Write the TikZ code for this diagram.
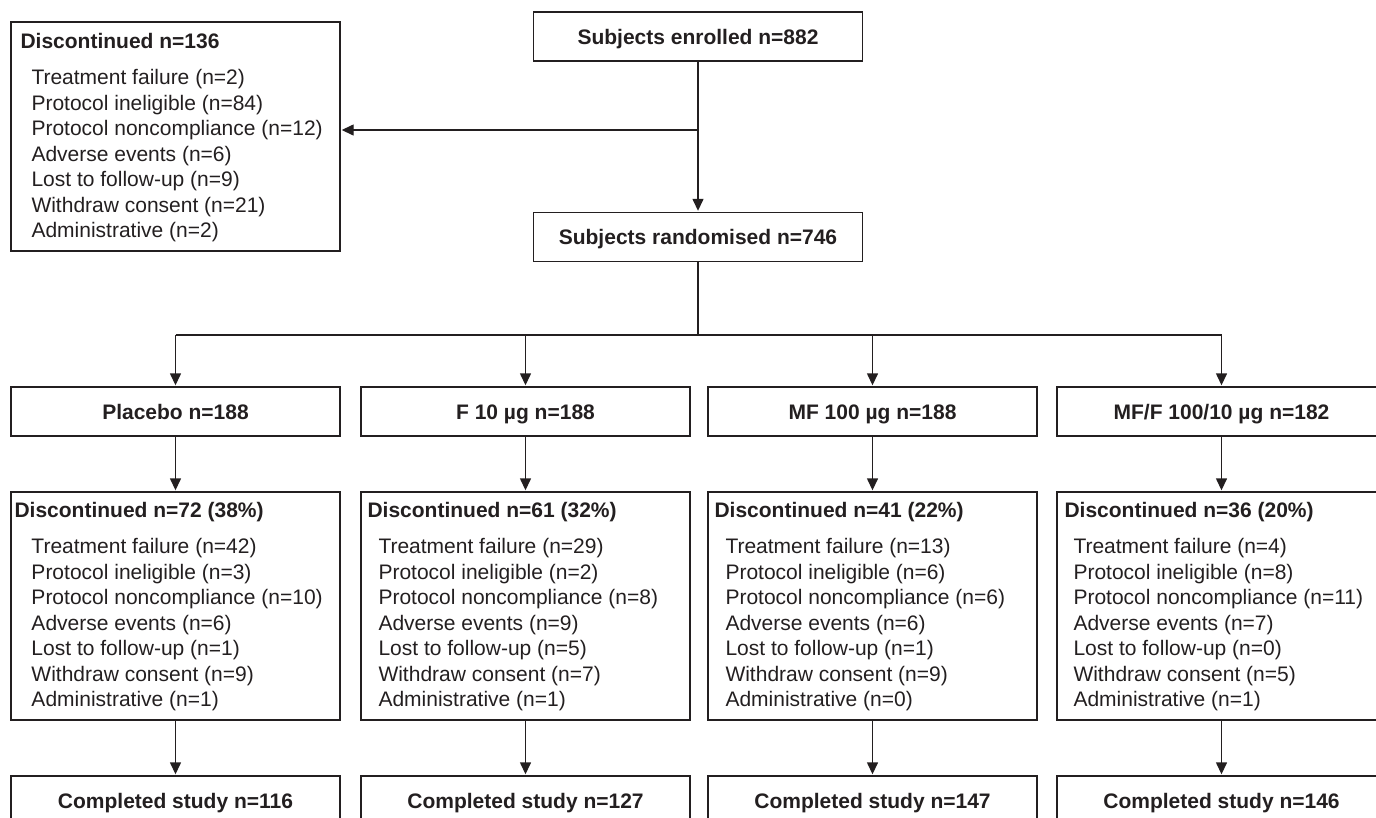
\documentclass[tikz,border=0pt]{standalone}
\usepackage{fontspec}
\setmainfont{Liberation Sans}
\usetikzlibrary{arrows.meta,calc}
\definecolor{ink}{HTML}{231F20}
\begin{document}
\begin{tikzpicture}[x=1pt,y=-1pt,
  box/.style={draw=ink, line width=1.4pt, minimum width=329pt, minimum height=49pt, inner sep=0pt, text=ink,
    text height=15pt, text depth=0pt, font=\fontsize{21}{25.5}\selectfont\bfseries},
  listbox/.style={draw=ink, line width=1.4pt, minimum width=329pt, minimum height=228pt, inner sep=0pt},
  listtext/.style={anchor=north west, inner sep=0pt, align=left, text=ink,
    font=\fontsize{21}{25.5}\selectfont},
  conn/.style={draw=ink, line width=1.4pt},
  arr/.style={conn, -{Triangle[length=12pt,width=11pt]}, shorten >=1pt}]
\useasboundingbox (0,0) rectangle (1376,817);

% top part
\node[box] (enr) at (698,36.5) {Subjects enrolled n=882};
\node[box] (rand) at (698,237) {Subjects randomised n=746};
\node[listbox, minimum height=229pt] (d0) at (175.5,136.5) {};
\node[listtext] (t0) at ($(d0.north west)+(10,12)$) {\textbf{Discontinued n=136}\\[10.5pt]
\hspace*{11pt}Treatment failure (n=2)\\
\hspace*{11pt}Protocol ineligible (n=84)\\
\hspace*{11pt}Protocol noncompliance (n=12)\\
\hspace*{11pt}Adverse events (n=6)\\
\hspace*{11pt}Lost to follow-up (n=9)\\
\hspace*{11pt}Withdraw consent (n=21)\\
\hspace*{11pt}Administrative (n=2)};

% group boxes
\node[box] (g1) at (175.5,411.5) {Placebo n=188};
\node[box] (g2) at (525.5,411.5) {F 10 µg n=188};
\node[box] (g3) at (872.5,411.5) {MF 100 µg n=188};
\node[box] (g4) at (1221.5,411.5) {MF/F 100/10 µg n=182};

% discontinued boxes
\node[listbox] (d1) at (175.5,606) {};
\node[listbox] (d2) at (525.5,606) {};
\node[listbox] (d3) at (872.5,606) {};
\node[listbox] (d4) at (1221.5,606) {};

\node[listtext] (t1) at ($(d1.north west)+(4,11)$) {\textbf{Discontinued n=72 (38\%)}\\[10.5pt]
\hspace*{17pt}Treatment failure (n=42)\\
\hspace*{17pt}Protocol ineligible (n=3)\\
\hspace*{17pt}Protocol noncompliance (n=10)\\
\hspace*{17pt}Adverse events (n=6)\\
\hspace*{17pt}Lost to follow-up (n=1)\\
\hspace*{17pt}Withdraw consent (n=9)\\
\hspace*{17pt}Administrative (n=1)};
\node[listtext] (t2) at ($(d2.north west)+(7,11)$) {\textbf{Discontinued n=61 (32\%)}\\[10.5pt]
\hspace*{11pt}Treatment failure (n=29)\\
\hspace*{11pt}Protocol ineligible (n=2)\\
\hspace*{11pt}Protocol noncompliance (n=8)\\
\hspace*{11pt}Adverse events (n=9)\\
\hspace*{11pt}Lost to follow-up (n=5)\\
\hspace*{11pt}Withdraw consent (n=7)\\
\hspace*{11pt}Administrative (n=1)};
\node[listtext] (t3) at ($(d3.north west)+(7,11)$) {\textbf{Discontinued n=41 (22\%)}\\[10.5pt]
\hspace*{11pt}Treatment failure (n=13)\\
\hspace*{11pt}Protocol ineligible (n=6)\\
\hspace*{11pt}Protocol noncompliance (n=6)\\
\hspace*{11pt}Adverse events (n=6)\\
\hspace*{11pt}Lost to follow-up (n=1)\\
\hspace*{11pt}Withdraw consent (n=9)\\
\hspace*{11pt}Administrative (n=0)};
\node[listtext] (t4) at ($(d4.north west)+(8,11)$) {\textbf{Discontinued n=36 (20\%)}\\[10.5pt]
\hspace*{9pt}Treatment failure (n=4)\\
\hspace*{9pt}Protocol ineligible (n=8)\\
\hspace*{9pt}Protocol noncompliance (n=11)\\
\hspace*{9pt}Adverse events (n=7)\\
\hspace*{9pt}Lost to follow-up (n=0)\\
\hspace*{9pt}Withdraw consent (n=5)\\
\hspace*{9pt}Administrative (n=1)};

% completed boxes
\node[box] (c1) at (175.5,800.5) {Completed study n=116};
\node[box] (c2) at (525.5,800.5) {Completed study n=127};
\node[box] (c3) at (872.5,800.5) {Completed study n=147};
\node[box] (c4) at (1221.5,800.5) {Completed study n=146};

% connectors
\coordinate (split) at (698,130);
\coordinate (br) at (698,335);
\draw[arr] (enr.south) -- (rand.north);
\draw[arr] (split) -- (split -| d0.east);
\draw[conn] (rand.south) -- (br);
\draw[conn] (br -| g1.north) -- (br -| g4.north);
\foreach \i in {1,2,3,4}{
  \draw[arr] (br -| g\i.north) -- (g\i.north);
  \draw[arr] (g\i.south) -- (d\i.north);
  \draw[arr] (d\i.south) -- (c\i.north);
}
\end{tikzpicture}
\end{document}
